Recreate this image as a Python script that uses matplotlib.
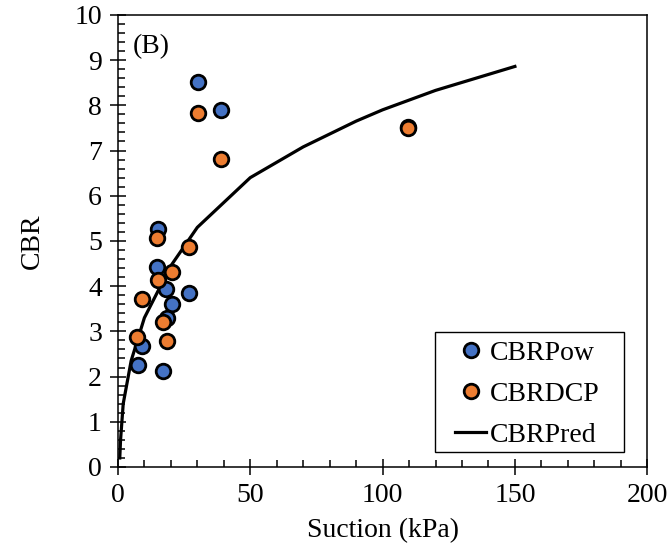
import numpy as np
import matplotlib
matplotlib.use("Agg")
import matplotlib.pyplot as plt
from matplotlib.patches import Rectangle
from matplotlib.ticker import MultipleLocator

# measured CBR against matric suction
suction_ow = [30.2, 38.9, 15.2, 14.9, 18.0, 27.0, 20.4, 18.4, 9.2, 7.4, 16.9, 109.5]
cbr_ow = [8.52, 7.90, 5.26, 4.43, 3.93, 3.84, 3.60, 3.30, 2.68, 2.26, 2.12, 7.51]

suction_dcp = [30.2, 38.9, 14.9, 27.0, 20.5, 15.2, 9.0, 16.9, 7.3, 18.4, 109.5]
cbr_dcp = [7.83, 6.81, 5.07, 4.87, 4.32, 4.14, 3.72, 3.21, 2.88, 2.79, 7.49]

# predicted CBR curve
suction_pred = [0.7, 1, 2, 5, 10, 20, 30, 50, 70, 90, 100, 120, 150]
cbr_pred = [0.2, 0.6, 1.4, 2.35, 3.3, 4.45, 5.3, 6.4, 7.08, 7.65, 7.9, 8.33, 8.86]

BLUE = "#4472C4"
ORANGE = "#ED7D31"

plt.rcParams["font.family"] = ["Liberation Serif", "DejaVu Serif"]
plt.rcParams["font.size"] = 20

fig = plt.figure(figsize=(6.7, 5.52), dpi=100)
ax = fig.add_axes([0.176, 0.154, 0.790, 0.819])

mk = dict(marker="o", linestyle="none", markersize=10.5,
          markeredgecolor="black", markeredgewidth=2.0)
ax.plot(suction_ow, cbr_ow, markerfacecolor=BLUE, label="CBRPow", zorder=3, **mk)
ax.plot(suction_dcp, cbr_dcp, markerfacecolor=ORANGE, label="CBRDCP", zorder=4, **mk)
ax.plot(suction_pred, cbr_pred, color="black", linewidth=2.3, label="CBRPred",
        zorder=2)

ax.set_xlim(0, 200)
ax.set_ylim(0, 10)
ax.xaxis.set_major_locator(MultipleLocator(50))
ax.xaxis.set_minor_locator(MultipleLocator(10))
ax.yaxis.set_major_locator(MultipleLocator(1))
ax.yaxis.set_minor_locator(MultipleLocator(0.2))
ax.tick_params(which="major", direction="inout", length=11, width=1.1, pad=6)
ax.tick_params(which="minor", direction="in", length=5, width=1.1)
for sp in ax.spines.values():
    sp.set_linewidth(1.1)

ax.set_xlabel("Suction (kPa)", labelpad=7)
ax.set_ylabel("CBR", labelpad=21)

ax.text(0.028, 0.93, "(B)", transform=ax.transAxes, ha="left", va="center")

# legend frame drawn separately: wider side padding than top/bottom
box = (0.599, 0.033, 0.358, 0.266)
ax.add_patch(Rectangle(box[:2], box[2], box[3], transform=ax.transAxes,
                       facecolor="white", edgecolor="black", linewidth=1.0,
                       zorder=5))
leg = ax.legend(loc="center", bbox_to_anchor=(box[0] + box[2] / 2 - 0.004,
                                              box[1] + box[3] / 2 - 0.005),
                frameon=False, handlelength=1.1, handletextpad=0.15,
                labelspacing=0.55, borderpad=0.0, fontsize=20)
leg.set_zorder(6)

fig.savefig("out.png", dpi=100)
